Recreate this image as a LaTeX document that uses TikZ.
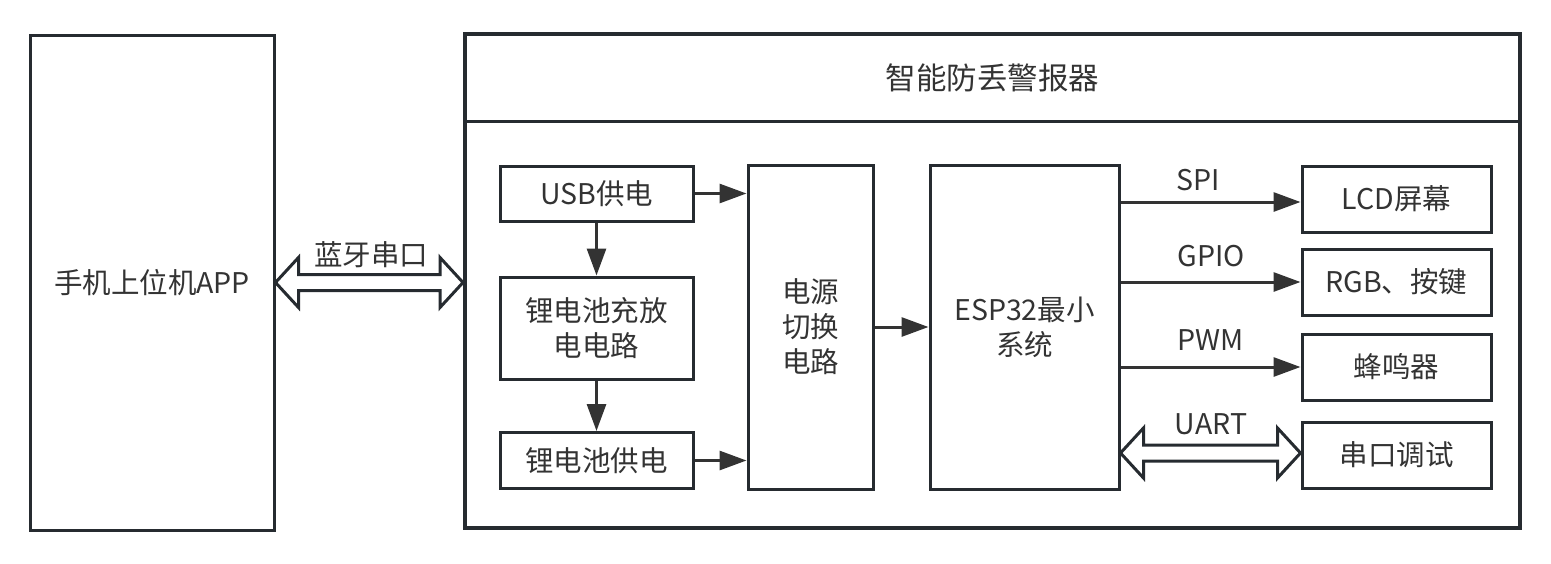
\documentclass[tikz,border=0pt]{standalone}
\usepackage{fontspec}
\setmainfont{Noto Sans CJK SC}
\usetikzlibrary{arrows.meta,calc}
\definecolor{edge}{HTML}{262B30}
\definecolor{ink}{HTML}{333333}
% hollow two-headed arrow between two points (drawn at the y of the first one)
\newcommand\hollowpair[2]{%
  \draw[hollow] let \p1=(#1),\p2=(#2) in
    (\x1,\y1) -- (\x1+23pt,\y1+25pt) -- (\x1+23pt,\y1+8pt) -- (\x2-23pt,\y1+8pt)
    -- (\x2-23pt,\y1+25pt) -- (\x2,\y1) -- (\x2-23pt,\y1-25pt) -- (\x2-23pt,\y1-8pt)
    -- (\x1+23pt,\y1-8pt) -- (\x1+23pt,\y1-25pt) -- cycle;}
\begin{document}
\begin{tikzpicture}[x=1pt,y=-1pt,
  box/.style={draw=edge,line width=3pt,inner sep=0pt,align=center,text=ink,
    font=\fontsize{28.5}{35}\selectfont},
  frame/.style={draw=edge,line width=4pt,inner sep=0pt},
  flow/.style={draw=ink,line width=3pt,-{Triangle[length=27pt,width=19pt]}},
  lab/.style={text=ink,inner sep=0pt,font=\fontsize{28.5}{34}\selectfont},
  hollow/.style={draw=edge,line width=3pt,fill=white,line join=miter}]
\useasboundingbox (0,0) rectangle (1551,563);

% phone side
\node[box,minimum width=244,minimum height=495] (app) at (152,282.5) {手机上位机APP};

% device frame with title bar
\node[frame,minimum width=1055,minimum height=494] (dev) at (992.5,281) {};
\node[lab,minimum height=87,font=\fontsize{30.5}{36}\selectfont] (title) at (992.5,77.5) {智能防丢警报器};
\draw[edge,line width=3pt] (dev.west |- title.south) -- (dev.east |- title.south);

% power path
\node[box,minimum width=193,minimum height=55] (usb) at (596.5,193.5) {USB供电};
\node[box,minimum width=193,minimum height=102] (chg) at (596.5,328) {锂电池充放\\电电路};
\node[box,minimum width=193,minimum height=56] (bat) at (596.5,460.5) {锂电池供电};
\node[box,minimum width=125,minimum height=324] (sw) at (810.5,327) {电源\\切换\\电路};

% controller and peripherals
\node[box,minimum width=189,minimum height=324] (esp) at (1024.5,327) {ESP32最小\\系统};
\node[box,minimum width=189,minimum height=66] (lcd) at (1396.5,199) {LCD屏幕};
\node[box,minimum width=189,minimum height=66] (rgb) at (1396.5,282) {RGB、按键};
\node[box,minimum width=189,minimum height=66] (buz) at (1396.5,367) {蜂鸣器};
\node[box,minimum width=189,minimum height=66] (dbg) at (1396.5,455) {串口调试};

% power arrows
\draw[flow] (usb.east) -- (usb.east -| sw.west);
\draw[flow] (bat.east) -- (bat.east -| sw.west);
\draw[flow] (usb.south) -- (chg.north);
\draw[flow] (chg.south) -- (bat.north);
\draw[flow] (sw.east) -- (sw.east -| esp.west);

% peripheral buses
\coordinate (spi) at ([yshift=-3pt]lcd.west);
\draw[flow] (spi -| esp.east) -- (spi);
\draw[flow] (rgb.west -| esp.east) -- (rgb.west);
\draw[flow] (buz.west -| esp.east) -- (buz.west);
\coordinate (uart) at ([yshift=2pt]dbg.west);
\coordinate (uartL) at (uart -| esp.east);
\hollowpair{uartL}{uart}

% bluetooth link
\coordinate (bt) at (app.east -| dev.west);
\hollowpair{app.east}{bt}

% bus labels
\node[lab] (lspi) at (1198,180) {SPI};
\node[lab] (lgpio) at (1211,256) {GPIO};
\node[lab] (lpwm) at (1211,340) {PWM};
\node[lab] (luart) at (1211,424) {UART};
\node[lab] (lbt) at (371,255) {蓝牙串口};
\end{tikzpicture}
\end{document}
